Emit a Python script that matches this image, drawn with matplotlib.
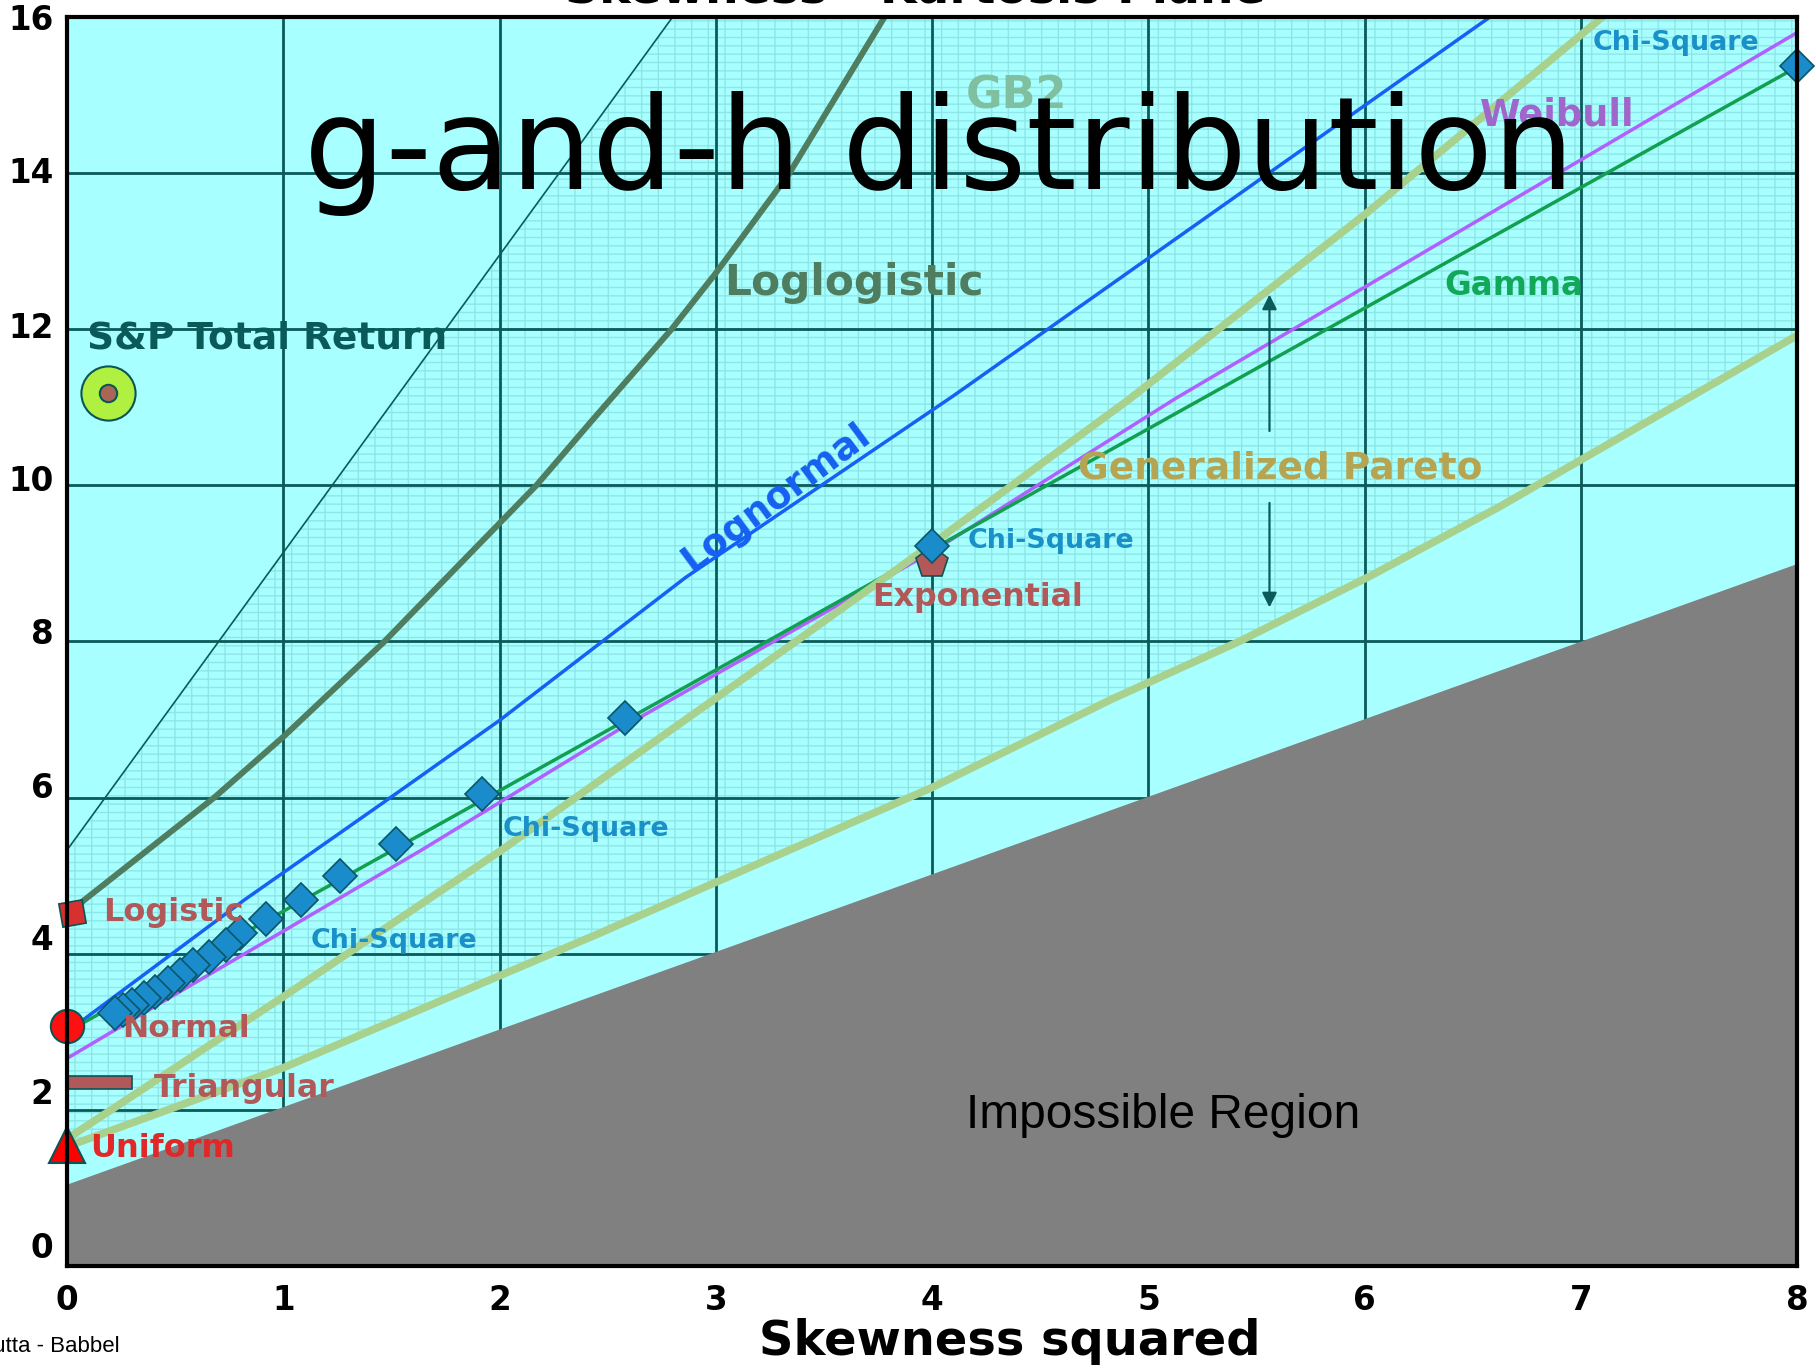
import numpy as np
import matplotlib.pyplot as plt
from matplotlib.patches import Polygon, Rectangle

plt.rcParams['hatch.linewidth'] = 1.0

# ---- data (x = skewness squared, y = kurtosis) ----
loglogistic_x = [0.0, 0.08, 0.68, 1.0, 1.46, 2.17, 2.43, 2.795, 3.0, 3.34, 3.78]
loglogistic_y = [4.5, 4.69, 6.0, 6.78, 7.98, 10.0, 10.84, 12.0, 12.72, 14.0, 16.0]

lognormal_x = [0.0, 0.82, 1.5, 2.0, 2.86, 4.1, 6.58]
lognormal_y = [3.0, 4.69, 6.01, 6.99, 8.82, 11.15, 16.0]

gamma_x = [0.0, 4.0, 8.0]
gamma_y = [3.0, 9.18, 15.36]

weibull_x = [0.0, 0.5, 1.0, 1.64, 2.58, 4.0, 5.13, 8.0]
weibull_y = [2.66, 3.48, 4.29, 5.33, 6.92, 9.15, 11.12, 15.8]

gp_upper_x = [0.0, 1.0, 2.01, 3.39, 4.0, 4.91, 6.01, 7.1]
gp_upper_y = [1.63, 3.45, 5.33, 8.04, 9.25, 11.1, 13.49, 16.0]

gp_lower_x = [0.0, 1.0, 2.46, 4.0, 4.83, 5.42, 6.02, 6.62, 8.0]
gp_lower_y = [1.53, 2.54, 4.26, 6.13, 7.26, 8.0, 8.83, 9.72, 11.92]

edge_x = [0.0, 2.8]           # thin boundary line, upper left
edge_y = [5.33, 16.0]

impossible_x = [0.0, 8.0]
impossible_y = [1.05, 9.0]

chisq_x = [8.0, 4.0, 2.58, 1.92, 1.52, 1.26, 1.08, 0.92, 0.80, 0.733, 0.655,
           0.583, 0.521, 0.468, 0.406, 0.353, 0.30, 0.256, 0.22]
chisq_y = [15.37, 9.22, 7.02, 6.04, 5.41, 5.0, 4.69, 4.45, 4.26, 4.11, 3.96,
           3.85, 3.73, 3.62, 3.51, 3.43, 3.34, 3.28, 3.24]

normal_pt = (0.0, 3.07)
logistic_pt = (0.02, 4.52)
uniform_pt = (0.0, 1.55)
exponential_pt = (4.0, 9.0)
sp_pt = (0.19, 11.18)
triangular_x = [0.0, 0.30]
triangular_y = 2.35

x_ticks = [0, 1, 2, 3, 4, 5, 6, 7, 8]
y_tick_labels = ['0', '2', '4', '6', '8', '10', '12', '14', '16']
y_tick_pos = [0.27, 2.24, 4.22, 6.16, 8.13, 10.1, 12.06, 14.04, 16.0]

# ---- colours ----
BG = '#a8ffff'
GRID = '#0b5a5a'
BRICK = '#8ee6e6'
RED_BROWN = '#b35858'
CHI_BLUE = '#1a90c8'

fig = plt.figure(figsize=(18.16, 13.68), dpi=100)
ax = fig.add_axes([0.037, 0.0746, 0.9526, 0.913])
ax.set_facecolor(BG)
ax.set_xlim(0, 8)
ax.set_ylim(0, 16)

# brick textured band between the two boundary lines
bx = edge_x + [8.0] + gp_lower_x[::-1]
by = edge_y + [16.0] + gp_lower_y[::-1]
ax.add_patch(Polygon(np.column_stack([bx, by]), closed=True, facecolor=BG,
                     edgecolor=BRICK, hatch='--|', lw=0, zorder=0.5))

# grid
for gy in range(2, 16, 2):
    ax.axhline(gy, color=GRID, lw=2.0, zorder=0.8)
for gx in range(1, 8):
    ax.axvline(gx, color=GRID, lw=2.0, zorder=0.8)

# impossible region
ax.fill_between(impossible_x, 0, impossible_y, color='#808080', lw=0, zorder=1)

# curves
ax.plot(edge_x, edge_y, color=GRID, lw=1.2, zorder=2)
ax.plot(gp_lower_x, gp_lower_y, color='#0b3a3a', lw=1.2, zorder=2)
ax.plot(loglogistic_x, loglogistic_y, color='#4f7d5f', lw=4.3, zorder=2.2)
ax.plot(lognormal_x, lognormal_y, color='#1560f5', lw=2.5, zorder=2.2)
ax.plot(weibull_x, weibull_y, color='#b060ff', lw=2.5, zorder=2.2)
ax.plot(gamma_x, gamma_y, color='#10a050', lw=2.5, zorder=2.3)
ax.plot(gp_upper_x, gp_upper_y, color='#a9d18e', lw=5.5, zorder=2.4)
ax.plot(gp_lower_x, gp_lower_y, color='#a9d18e', lw=5.5, zorder=2.4)

# arrows for the Generalized Pareto band
ax.annotate('', xy=(5.56, 12.48), xytext=(5.56, 10.66),
            arrowprops=dict(arrowstyle='-|>', color=GRID, lw=1.6,
                            mutation_scale=22), zorder=3)
ax.annotate('', xy=(5.56, 8.4), xytext=(5.56, 9.81),
            arrowprops=dict(arrowstyle='-|>', color=GRID, lw=1.6,
                            mutation_scale=22), zorder=3)

# markers
ax.plot(chisq_x, chisq_y, ls='none', marker='D', ms=17.5, mfc='#1a8ccc',
        mec='#0b5566', mew=1.2, zorder=3, clip_on=False)
ax.plot(*exponential_pt, marker='p', ms=24, mfc=RED_BROWN, mec='#0b5555',
        mew=1.2, zorder=2.9)
ax.plot(*normal_pt, marker='o', ms=24, mfc='#ff1010', mec='#0b5555',
        mew=1.5, zorder=3.2, clip_on=False)
ax.plot(*logistic_pt, marker=(4, 0, 55), ms=24, mfc='#d83030', mec='#0b5555',
        mew=1.2, zorder=3.2, clip_on=False)
ax.plot(*uniform_pt, marker='^', ms=26, mfc='#ff0000', mec='#0b5555',
        mew=1.5, zorder=3.2, clip_on=False)
ax.add_patch(Rectangle((triangular_x[0], triangular_y - 0.085),
                       triangular_x[1] - triangular_x[0], 0.17,
                       facecolor=RED_BROWN, edgecolor='#0b5555', lw=1.2,
                       zorder=3.2))
ax.plot(*sp_pt, marker='o', ms=39, mfc='#b0f040', mec='#0b5555', mew=1.5,
        zorder=3.2)
ax.plot(*sp_pt, marker='o', ms=12.5, mfc='#aa6655', mec='#0b5555', mew=1.5,
        zorder=3.3)

# labels in the plot
bold = dict(fontweight='bold', ha='center', va='center', zorder=4)
ax.text(4.39, 14.99, 'GB2', color='#80c0a0', fontsize=32, **bold)
ax.text(3.64, 12.59, 'Loglogistic', color='#4f7d5f', fontsize=30.5, **bold)
ax.text(6.89, 14.75, 'Weibull', color='#a066cc', fontsize=26.5, **bold)
ax.text(7.44, 15.67, 'Chi-Square', color=CHI_BLUE, fontsize=19.4, **bold)
ax.text(6.69, 12.56, 'Gamma', color='#12a85a', fontsize=23.5, **bold)
ax.text(0.926, 11.88, 'S&P Total Return', color='#0a5a5a', fontsize=27, **bold)
ax.text(3.28, 9.84, 'Lognormal', color='#1560f0', fontsize=27, rotation=36.5,
        rotation_mode='anchor', **bold)
ax.text(5.61, 10.21, 'Generalized Pareto', color='#b5a552', fontsize=27, **bold)
ax.text(4.55, 9.29, 'Chi-Square', color=CHI_BLUE, fontsize=19.4, **bold)
ax.text(4.21, 8.56, 'Exponential', color=RED_BROWN, fontsize=22.8, **bold)
ax.text(2.4, 5.6, 'Chi-Square', color=CHI_BLUE, fontsize=19.4, **bold)
ax.text(1.51, 4.16, 'Chi-Square', color=CHI_BLUE, fontsize=19.4, **bold)
ax.text(0.49, 4.53, 'Logistic', color=RED_BROWN, fontsize=23, **bold)
ax.text(0.55, 3.04, 'Normal', color=RED_BROWN, fontsize=22.5, **bold)
ax.text(0.82, 2.27, 'Triangular', color=RED_BROWN, fontsize=22.8, **bold)
ax.text(0.44, 1.5, 'Uniform', color='#e02828', fontsize=23, **bold)
ax.text(5.07, 1.93, 'Impossible Region', color='black', fontsize=34.5,
        family='Liberation Sans', ha='center', va='center', zorder=4)
ax.text(4.03, 13.8, 'g-and-h distribution', color='black', fontsize=92.5,
        ha='center', va='baseline', zorder=6)

# axes cosmetics
ax.set_xticks(x_ticks)
ax.set_xticklabels([str(t) for t in x_ticks])
ax.set_yticks(y_tick_pos)
ax.set_yticklabels(y_tick_labels)
ax.tick_params(length=0, labelsize=23.5)
ax.tick_params(axis='x', pad=13)
ax.tick_params(axis='y', pad=10)
for lab in ax.get_xticklabels() + ax.get_yticklabels():
    lab.set_fontweight('bold')
for side in ['left', 'right', 'top', 'bottom']:
    ax.spines[side].set_linewidth(3)
    ax.spines[side].set_color('black')
    ax.spines[side].set_zorder(5)

fig.text(0.556, 0.0197, 'Skewness squared', fontsize=34.5, fontweight='bold',
         ha='center', va='center')
fig.text(0.504, 0.998, 'Skewness - Kurtosis Plane', fontsize=34,
         fontweight='bold', ha='center', va='baseline')
fig.text(0.066, 0.0155, 'Dutta - Babbel', fontsize=16, family='Liberation Sans',
         ha='right', va='center')

fig.savefig('out.png', dpi=100)
